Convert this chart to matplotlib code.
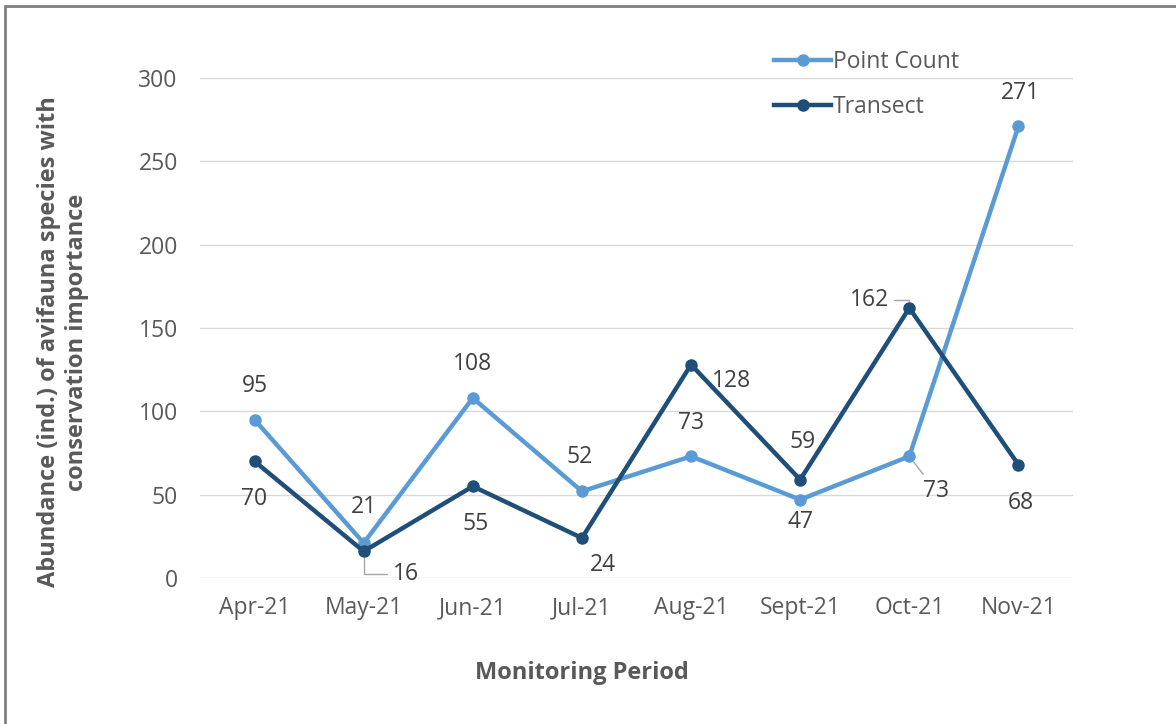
import numpy as np
import matplotlib.pyplot as plt
from matplotlib.patches import Rectangle

## data
months = ['Apr-21', 'May-21', 'Jun-21', 'Jul-21', 'Aug-21', 'Sept-21', 'Oct-21', 'Nov-21']
point_count = [95, 21, 108, 52, 73, 47, 73, 271]
transect = [70, 16, 55, 24, 128, 59, 162, 68]

## label offsets in pixels (dx, dy) per point
pc_off = [(0, 34), (0, 36), (0, 34), (-2, 34), (0, 33), (0, -22), (27, -35), (2, 33)]
tr_off = [(0, -38), (42, -23), (3, -38), (21, -27), (40, -16), (2, 38), (-40, 8), (2, -38)]
pc_leader = [None, None, None, None, None, None, 'arc3', None]
tr_leader = [None, 'angle,angleA=0,angleB=90,rad=0', None, None, None, None,
             'angle,angleA=0,angleB=90,rad=0', None]

c_pc = '#5B9BD5'
c_tr = '#1F4E79'
txt = '#595959'
fs = 16.5

plt.rcParams['font.family'] = ['Open Sans', 'DejaVu Sans']

fig = plt.figure(figsize=(11.76, 7.24), dpi=100)
ax = fig.add_axes([200 / 1176, 146 / 724, 873 / 1176, 500 / 724])

x = np.arange(len(months))
ax.plot(x, point_count, '-o', color=c_pc, lw=3.2, ms=8, label='Point Count', zorder=3)
ax.plot(x, transect, '-o', color=c_tr, lw=3.2, ms=8, label='Transect', zorder=3)

ax.set_xlim(-0.5, len(months) - 0.5)
ax.set_ylim(0, 300)
ax.set_yticks(np.arange(0, 301, 50))
ax.set_xticks(x)
ax.set_xticklabels(months)
ax.grid(axis='y', color='#d9d9d9', lw=1)
ax.set_axisbelow(True)
for s in ax.spines.values():
    s.set_visible(False)
ax.tick_params(length=0, labelsize=fs, colors=txt)
ax.tick_params(axis='x', pad=13)
ax.tick_params(axis='y', pad=16)


def put_labels(vals, offs, leaders):
    for i, (v, (dx, dy), ld) in enumerate(zip(vals, offs, leaders)):
        kw = {}
        if ld:
            kw['arrowprops'] = dict(arrowstyle='-', color='#a6a6a6', lw=1,
                                    shrinkA=2, shrinkB=5, connectionstyle=ld)
        ax.annotate(str(v), (i, v), xytext=(dx, dy), textcoords='offset pixels',
                    ha='center', va='center', fontsize=fs, color='#404040',
                    annotation_clip=False, zorder=4, **kw)


put_labels(point_count, pc_off, pc_leader)
put_labels(transect, tr_off, tr_leader)

leg = ax.legend(loc='upper left', bbox_to_anchor=(565 / 873, 1.075), frameon=False,
                fontsize=fs, handlelength=2.5, handletextpad=0.05, labelspacing=0.95,
                borderaxespad=0)
for t in leg.get_texts():
    t.set_color(txt)

fig.text(63 / 1176, 1 - 342 / 724,
         'Abundance (ind.) of avifauna species with\nconservation importance',
         rotation=90, ha='center', va='center', fontsize=17, fontweight='bold',
         color=txt, linespacing=1.25)
fig.text(582 / 1176, 1 - 673 / 724, 'Monitoring Period', ha='center', va='center',
         fontsize=17, fontweight='bold', color=txt)

## outer frame (only left and top fall inside the picture)
fig.patches.append(Rectangle((5 / 1176, -0.1), 1.2, 1 - 6 / 724 + 0.1,
                             transform=fig.transFigure, fill=False,
                             edgecolor='#808080', lw=2))

fig.savefig('out.png', dpi=100)
